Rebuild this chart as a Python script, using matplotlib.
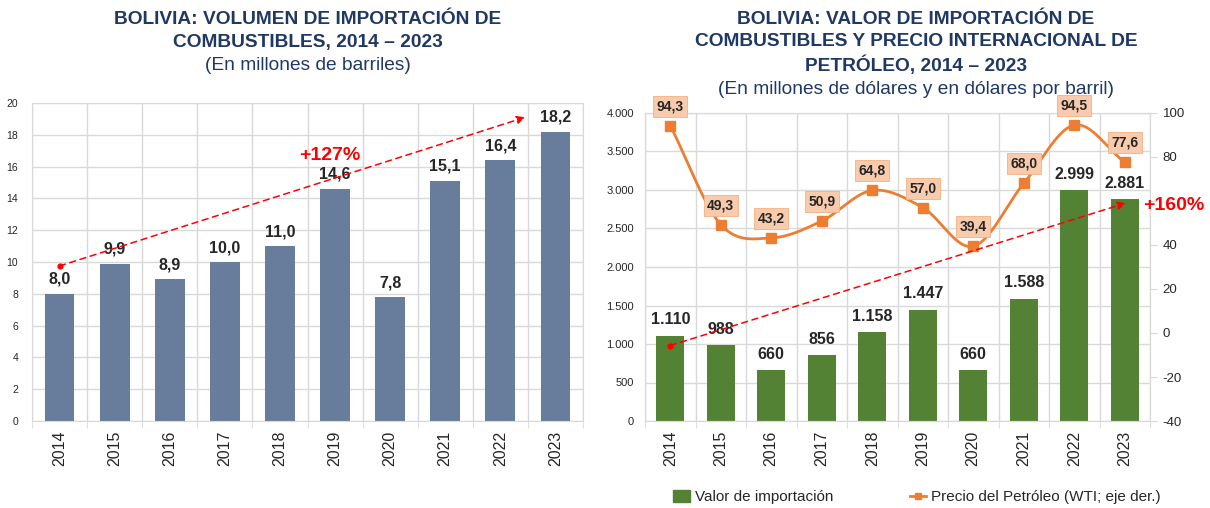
import numpy as np
import matplotlib.pyplot as plt
from matplotlib.lines import Line2D
from matplotlib.patches import Patch
from matplotlib.ticker import FuncFormatter

plt.rcParams['font.family'] = ['Liberation Sans', 'DejaVu Sans']
plt.rcParams['axes.unicode_minus'] = False

years = ['2014', '2015', '2016', '2017', '2018', '2019', '2020', '2021', '2022', '2023']
volumen = [8.0, 9.9, 8.9, 10.0, 11.0, 14.6, 7.8, 15.1, 16.4, 18.2]
valor = [1110, 988, 660, 856, 1158, 1447, 660, 1588, 2999, 2881]
precio = [94.3, 49.3, 43.2, 50.9, 64.8, 57.0, 39.4, 68.0, 94.5, 77.6]

navy = '#1f3864'
grid_c = '#d9d9d9'
txt_c = '#262626'


def fmt_es(v, dec=1):
    return ('%.*f' % (dec, v)).replace('.', ',')


def miles(v):
    return '{:,.0f}'.format(v).replace(',', '.')


def catmull(xs, ys, n=30):
    # suavizado tipo Excel (Catmull-Rom)
    xs = np.asarray(xs, float); ys = np.asarray(ys, float)
    px = np.concatenate([[2*xs[0]-xs[1]], xs, [2*xs[-1]-xs[-2]]])
    py = np.concatenate([[2*ys[0]-ys[1]], ys, [2*ys[-1]-ys[-2]]])
    outx, outy = [], []
    t = np.linspace(0, 1, n)
    for i in range(1, len(px)-2):
        for p, out in ((px, outx), (py, outy)):
            p0, p1, p2, p3 = p[i-1], p[i], p[i+1], p[i+2]
            out.extend(0.5*((2*p1) + (-p0+p2)*t + (2*p0-5*p1+4*p2-p3)*t**2
                            + (-p0+3*p1-3*p2+p3)*t**3))
    return np.array(outx), np.array(outy)


W, H = 1210, 508
fig = plt.figure(figsize=(W/100, H/100), dpi=100)
x = np.arange(len(years))

# ---------------- left chart ----------------
ax1 = fig.add_axes([32/W, 1-421/H, (583-32)/W, (421-103)/H])
ax1.bar(x, volumen, width=0.54, color='#687d9b', zorder=2)
ax1.set_xlim(-0.5, 9.5)
ax1.set_ylim(0, 20)
ax1.set_yticks(np.arange(0, 21, 2))
ax1.set_xticks(x)
ax1.set_xticklabels(years, rotation=90, fontsize=11.5, color=txt_c)
ax1.set_xticks(np.arange(-0.5, 10, 1), minor=True)
ax1.tick_params(axis='x', which='major', length=0, pad=7)
ax1.tick_params(axis='x', which='minor', length=5, color=grid_c)
ax1.tick_params(axis='y', length=0, labelsize=7.5, labelcolor=txt_c, pad=10)
ax1.grid(axis='y', color=grid_c, lw=1, zorder=0)
ax1.grid(axis='x', which='minor', color=grid_c, lw=1, zorder=0)
for s in ax1.spines.values():
    s.set_color(grid_c)
for i, v in enumerate(volumen):
    ax1.annotate(fmt_es(v), (i, v), xytext=(0, 5), textcoords='offset points',
                 ha='center', va='bottom', fontsize=11.5, fontweight='bold', color=txt_c, zorder=4)
ax1.annotate('', xy=(8.45, 19.1), xytext=(0, 9.75),
             arrowprops=dict(arrowstyle='-|>', color='#ff0000', lw=1.1, ls=(0, (4, 3)),
                             mutation_scale=12, shrinkA=0, shrinkB=0), zorder=5)
ax1.plot([0], [9.75], 'o', color='#ff0000', ms=3.5, zorder=5)
ax1.text(4.9, 16.7, '+127%', color='#ff0000', fontsize=14, fontweight='bold',
         ha='center', va='center', zorder=5)

for yy, s, w in [(19, 'BOLIVIA: VOLUMEN DE IMPORTACIÓN DE', 'bold'),
                 (43, 'COMBUSTIBLES, 2014 – 2023', 'bold'),
                 (66, '(En millones de barriles)', 'normal')]:
    fig.text(308/W, 1-yy/H, s, ha='center', va='center', fontsize=13.8, fontweight=w, color=navy)

# ---------------- right chart ----------------
ax2 = fig.add_axes([645/W, 1-421/H, (1150-645)/W, (421-113)/H])
ax2.bar(x, valor, width=0.55, color='#548235', zorder=2)
ax2.set_xlim(-0.5, 9.5)
ax2.set_ylim(0, 4000)
ax2.set_yticks(np.arange(0, 4001, 500))
ax2.yaxis.set_major_formatter(FuncFormatter(lambda v, p: miles(v)))
ax2.set_xticks(x)
ax2.set_xticklabels(years, rotation=90, fontsize=11.5, color=txt_c)
ax2.set_xticks(np.arange(-0.5, 10, 1), minor=True)
ax2.tick_params(axis='x', which='major', length=0, pad=7)
ax2.tick_params(axis='x', which='minor', length=5, color=grid_c)
ax2.tick_params(axis='y', length=0, labelsize=8, labelcolor=txt_c, pad=8)
ax2.grid(axis='y', color=grid_c, lw=1, zorder=0)
ax2.grid(axis='x', which='minor', color=grid_c, lw=1, zorder=0)
for s in ax2.spines.values():
    s.set_color(grid_c)
for i, v in enumerate(valor):
    ax2.annotate(miles(v), (i, v), xytext=(0, 6), textcoords='offset points',
                 ha='center', va='bottom', fontsize=11.5, fontweight='bold', color=txt_c, zorder=4)

ax3 = ax2.twinx()
ax3.set_ylim(-40, 100)
ax3.set_yticks(np.arange(-40, 101, 20))
# the 60 label is covered by the "+160%" note in the original
ax3.yaxis.set_major_formatter(FuncFormatter(lambda v, p: '' if round(v) == 60 else '%d' % v))
ax3.tick_params(axis='y', length=5, color=grid_c, labelsize=9.5, labelcolor=txt_c, pad=4)
for s in ax3.spines.values():
    s.set_color(grid_c)
sx, sy = catmull(x, precio)
ax3.plot(sx, sy, color='#ed7d31', lw=2, zorder=3)
ax3.plot(x, precio, 's', color='#ed7d31', ms=6.5, zorder=3)
for i, v in enumerate(precio):
    ax3.annotate(fmt_es(v), (i, v), xytext=(0, 9), textcoords='offset points',
                 ha='center', va='bottom', fontsize=10, fontweight='bold', color=txt_c,
                 bbox=dict(boxstyle='square,pad=0.25', fc='#f8cbad', ec='#f4b183', lw=0.6),
                 zorder=4)
ax3.annotate('', xy=(9.02, 2830*140/4000-40), xytext=(0, 980*140/4000-40),
             arrowprops=dict(arrowstyle='-|>', color='#ff0000', lw=1.1, ls=(0, (4, 3)),
                             mutation_scale=12, shrinkA=0, shrinkB=0), zorder=5)
ax3.plot([0], [980*140/4000-40], 'o', color='#ff0000', ms=3.5, zorder=5)
fig.text(1174/W, 1-205/H, '+160%', color='#ff0000', fontsize=14, fontweight='bold',
         ha='center', va='center', zorder=6)

tx = 916/W
for yy, s, w in [(18, 'BOLIVIA: VALOR DE IMPORTACIÓN DE', 'bold'),
                 (41, 'COMBUSTIBLES Y PRECIO INTERNACIONAL DE', 'bold'),
                 (64, 'PETRÓLEO, 2014 – 2023', 'bold'),
                 (88, '(En millones de dólares y en dólares por barril)', 'normal')]:
    fig.text(tx, 1-(yy+1)/H, s, ha='center', va='center', fontsize=13.8, fontweight=w, color=navy)

handles = [Patch(color='#548235', label='Valor de importación'),
           Line2D([0], [0], color='#ed7d31', lw=2, marker='s', ms=5,
                  label='Precio del Petróleo (WTI; eje der.)')]
fig.legend(handles=handles, loc='center', bbox_to_anchor=(917/W, 1-497/H), ncol=2,
           frameon=False, fontsize=11, handlelength=1.1, handleheight=0.8,
           handletextpad=0.3, columnspacing=5.0, labelcolor=txt_c)

fig.savefig('out.png', dpi=100, facecolor='white')
